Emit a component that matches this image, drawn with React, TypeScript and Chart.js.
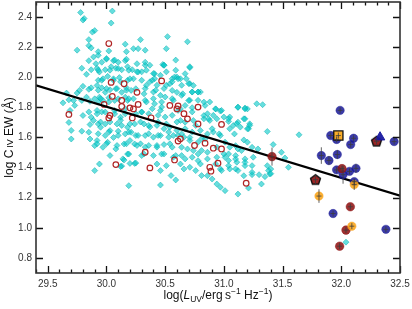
import React, { useEffect, useRef } from "react";
import { Chart, registerables } from "chart.js";
Chart.register(...registerables);

const X_TICKS = [29.5, 30.0, 30.5, 31.0, 31.5, 32.0, 32.5];
const Y_TICKS = [0.8, 1.0, 1.2, 1.4, 1.6, 1.8, 2.0, 2.2, 2.4];
const X_MIN = 29.4, X_MAX = 32.5, Y_MIN = 0.7, Y_MAX = 2.5;

// comparison sample (cyan diamonds)
const sdssPoints: [number, number][] = [
  [29.78,2.43],[29.81,2.39],[29.80,2.38],[30.05,2.44],[30.04,2.36],[29.90,2.31],[29.88,2.30],[29.85,2.25],[29.85,2.21],[29.75,2.18],[29.87,2.195],[29.93,2.17],[30.02,2.175],[30.16,2.22],[30.17,2.17],[30.23,2.19],[30.27,2.19],
  [29.85,2.11],[29.89,2.135],[29.93,2.146],[29.91,2.09],[29.96,2.10],[30.0,2.12],[30.06,2.11],[30.10,2.10],[30.16,2.11],[29.79,2.06],[29.83,2.02],[29.87,2.05],[29.92,2.06],[29.94,2.035],[29.99,2.05],[30.04,2.07],[30.08,2.06],[30.13,2.05],[30.18,2.07],[30.22,2.05],[30.26,2.09],[30.27,2.035],[29.93,1.98],[29.97,1.99],[30.01,2.006],[30.06,1.98],[30.11,1.998],[30.18,1.98],[30.23,1.99],
  [29.80,1.94],[29.85,1.92],[29.77,1.913],[29.75,1.895],[29.87,1.93],[29.92,1.946],[29.96,1.93],[29.99,1.90],[30.03,1.917],[30.08,1.924],[30.13,1.90],[30.17,1.93],[30.21,1.913],[30.25,1.924],[29.72,1.846],[29.73,1.813],[29.69,1.78],[29.79,1.846],[29.83,1.868],[29.86,1.84],[29.90,1.857],[29.94,1.868],[29.93,1.835],[29.97,1.846],[30.02,1.864],[30.07,1.846],[30.10,1.857],[30.16,1.868],[30.18,1.846],[30.23,1.857],
  [29.68,1.70],[29.70,1.59],[29.80,1.746],[29.85,1.77],[29.87,1.735],[29.92,1.757],[29.96,1.77],[29.86,1.686],[29.89,1.713],[29.93,1.69],[29.79,1.642],[29.85,1.635],[29.95,1.668],[29.99,1.69],[30.07,1.757],[30.12,1.735],[30.16,1.757],[30.25,1.757],[30.09,1.69],[30.13,1.68],[30.18,1.668],[30.24,1.69],[30.03,1.646],[30.10,1.642],[30.16,1.624],[30.21,1.635],[30.25,1.613],[29.99,1.613],[29.86,1.59],[29.92,1.58],[30.06,1.60],
  [29.90,1.546],[29.97,1.535],[30.01,1.568],[30.08,1.524],[30.15,1.557],[30.20,1.58],[30.24,1.557],[30.18,1.49],[30.14,1.458],[30.20,1.428],[30.24,1.428],[30.13,1.41],[29.94,1.424],[29.90,1.38],[30.19,1.28],
  [29.66,1.895],[29.68,1.85],[29.63,1.83],[29.70,1.647],[30.12,1.407],[30.15,1.45],[30.25,1.43],
  [30.52,2.27],[30.69,2.236],[30.33,2.18],[30.51,2.19],[30.29,2.25],[30.48,2.085],[30.71,2.064],[30.33,2.08],[30.37,2.08],[30.30,2.036],[30.41,2.024],[30.46,2.013],[30.56,1.99],[30.60,2.002],[30.68,1.99],[30.39,1.98],[30.34,1.947],[30.43,1.947],[30.51,1.947],[30.56,1.913],[30.64,1.947],[30.71,1.958],[30.65,1.89],[30.73,1.902],[30.78,1.902],[30.71,1.847],[30.78,1.847],[30.93,1.79],[30.97,1.776],[30.91,1.747],[30.86,1.758],
  [30.32,1.89],[30.40,1.902],[30.46,1.88],[30.50,1.869],[30.57,1.847],[30.34,1.836],[30.41,1.824],[30.47,1.802],[30.67,1.813],[30.73,1.798],[30.84,1.813],[30.88,1.836],[30.30,1.769],[30.36,1.758],[30.44,1.747],[30.50,1.736],[30.56,1.747],[30.63,1.713],[30.74,1.713],[30.83,1.724],[30.88,1.713],[30.94,1.724],[31.0,1.736],
  [30.32,1.69],[30.37,1.669],[30.43,1.68],[30.49,1.658],[30.54,1.669],[30.60,1.647],[30.67,1.658],[30.73,1.636],[30.80,1.647],[30.86,1.624],[30.91,1.636],[30.97,1.613],[30.33,1.613],[30.40,1.602],[30.46,1.613],[30.53,1.602],[30.57,1.613],[30.66,1.602],[30.71,1.58],[30.78,1.569],[30.84,1.591],
  [30.29,1.558],[30.36,1.547],[30.43,1.536],[30.49,1.553],[30.56,1.536],[30.69,1.524],[30.81,1.513],[30.94,1.536],[30.32,1.491],[30.40,1.48],[30.49,1.491],[30.57,1.469],[30.64,1.48],[30.73,1.469],[30.78,1.491],[30.86,1.458],[30.94,1.469],[31.0,1.491],
  [30.43,1.424],[30.51,1.413],[30.63,1.424],[30.71,1.402],[30.80,1.424],[30.97,1.391],[30.46,1.38],[30.55,1.347],[30.59,1.318],[30.81,1.347],[30.90,1.324],[30.94,1.291],[30.46,1.284],[30.97,1.27],
  [31.33,1.818],[31.12,1.802],[31.18,1.796],[31.05,1.736],[31.04,1.707],[31.12,1.702],[31.18,1.724],[31.22,1.691],[31.08,1.68],[31.14,1.669],[31.21,1.658],[31.37,1.64],[31.64,1.618],[31.09,1.624],[31.17,1.584],[31.20,1.569],[31.29,1.524],[31.42,1.553],[31.49,1.502],[31.52,1.464],[31.55,1.402],
  [31.05,1.536],[31.12,1.524],[31.10,1.48],[31.18,1.458],[31.25,1.469],[31.04,1.447],[31.11,1.436],[31.18,1.413],[31.24,1.413],[31.05,1.391],[31.12,1.38],[31.37,1.413],[31.38,1.38],[31.24,1.353],[31.30,1.353],[31.35,1.34],[31.39,1.358],[31.32,1.291],[31.21,1.264],[31.12,1.224],[31.01,1.247],[31.40,1.39],[31.40,1.36],[32.04,0.905],
  [30.41,1.99],[30.54,1.957],[30.74,1.946],[30.80,1.902],[30.67,2.024],[30.58,2.002],[30.49,2.08],[30.71,2.07],[31.20,1.79],
  [30.00,2.125],[30.07,2.114],[30.17,2.12],[30.33,2.10],[30.49,2.08],[30.59,2.114],[29.93,2.047],[30.03,2.047],[30.10,2.058],[30.19,2.047],[30.26,2.036],[30.34,2.047],[30.40,2.025],[30.51,2.036],[30.59,2.047],
  [29.96,1.98],[30.06,1.99],[30.12,1.97],[30.20,1.99],[30.30,1.98],[30.37,1.97],[30.56,1.97],[30.61,1.99],[29.93,1.914],[30.00,1.925],[30.09,1.925],[30.17,1.914],[30.33,1.925],[30.42,1.914],[30.49,1.925],[30.60,1.90],
  [29.95,1.858],[30.02,1.836],[30.19,1.858],[30.33,1.847],[30.40,1.858],[30.47,1.836],[30.56,1.858],[29.92,1.78],[29.99,1.769],[30.07,1.78],[30.16,1.791],[30.30,1.769],[30.39,1.791],[30.46,1.78],[30.61,1.78],
  [29.95,1.703],[30.03,1.703],[30.12,1.714],[30.20,1.69],[30.29,1.703],[30.36,1.68],[30.44,1.703],[30.51,1.69],[30.60,1.703],[29.93,1.625],[30.02,1.636],[30.10,1.614],[30.19,1.636],[30.27,1.614],[30.36,1.625],[30.44,1.614],[30.53,1.636],[30.61,1.614],
  [29.92,1.558],[30.00,1.558],[30.09,1.547],[30.17,1.558],[30.26,1.547],[30.33,1.536],[30.43,1.547],[30.54,1.558],[30.03,1.48],[30.19,1.49],[30.30,1.48],[30.47,1.49],[30.59,1.48],
  [30.63,1.99],[30.70,1.958],[30.73,1.902],[30.78,1.902],[30.64,1.88],[30.70,1.846],[30.83,1.835],[30.93,1.79],[30.98,1.78],[31.12,1.80],[31.18,1.79],[31.28,1.824],[30.63,1.79],[30.73,1.77],[30.83,1.746],[30.87,1.724],[31.04,1.724],[31.11,1.691],[31.17,1.724],[31.22,1.68],[31.05,1.658],[31.20,1.658],
  [30.67,1.702],[30.76,1.68],[30.90,1.658],[30.96,1.624],[30.64,1.624],[30.71,1.60],[30.81,1.591],[31.01,1.569],[31.10,1.546],[31.15,1.513],[31.24,1.535],[30.64,1.535],[30.74,1.513],[30.86,1.502],[31.04,1.491],
  [30.67,1.458],[30.78,1.446],[31.01,1.468],[31.10,1.457],[30.93,1.424],[31.04,1.413],[31.18,1.435],[30.66,1.391],[30.76,1.38],[30.98,1.38],[31.10,1.391],[31.24,1.369],[30.86,1.346],[31.17,1.346],
];

// comparison sample open circles (red)
const redOpen: [number, number][] = [
  [30.02,2.224],[30.04,1.966],[30.15,1.957],[30.26,1.90],[30.05,1.873],[30.13,1.846],[30.13,1.806],[30.20,1.797],[30.23,1.79],[30.27,1.82],[29.98,1.82],[29.68,1.753],[30.02,1.73],[30.03,1.746],[30.22,1.73],[30.08,1.42],
  [30.47,1.976],[30.54,1.813],[30.60,1.79],[30.61,1.81],[30.66,1.758],[30.69,1.724],[30.78,1.802],[30.78,1.69],[30.98,1.687],[30.38,1.731],[30.63,1.591],[30.61,1.576],[30.75,1.547],[30.84,1.562],[30.91,1.529],[30.98,1.524],[30.33,1.502],[30.58,1.451],[30.37,1.398],[30.95,1.429],[30.88,1.402],[30.89,1.376],
  [31.19,1.296],
];

// best-fit relation
const fitX = [29.4, 32.5];
const fitY = [1.947, 1.213];

// high-luminosity sample
const blueX = [31.99, 31.91, 31.96, 32.105, 32.08, 31.83, 31.895, 31.966, 31.96, 32.07, 32.125, 32.015, 32.11, 31.93, 32.38, 32.45];
const blueY = [1.78, 1.613, 1.587, 1.595, 1.553, 1.48, 1.447, 1.487, 1.385, 1.375, 1.395, 1.353, 1.307, 1.095, 0.99, 1.573];
const blueErr = [0.02, 0.02, 0.02, 0.02, 0.02, 0.055, 0.03, 0.03, 0.02, 0.02, 0.03, 0.06, 0.02, 0.02, 0.02, 0.02];

const darkRedX = [31.41, 32.006, 32.077, 32.04, 31.986];
const darkRedY = [1.473, 1.393, 1.14, 0.985, 0.878];
const darkRedErr = [0.06, 0.02, 0.02, 0.02, 0.02];

const orangeX = [32.11, 31.81, 32.09];
const orangeY = [1.287, 1.211, 1.011];
const orangeErr = [0.035, 0.045, 0.02];

const pentX = [31.78, 32.30];
const pentY = [1.32, 1.575];
const pentErr = [0.03, 0.02];

const squareX = [31.975];
const squareY = [1.613];
const squareErr = [0.02];

const triX = [32.33];
const triY = [1.602];

const FONT = "'Liberation Sans', Arial, Helvetica, sans-serif";

function toXY(xs: number[], ys: number[]) {
  return xs.map((x, i) => ({ x, y: ys[i] }));
}

function makePentagon(): HTMLCanvasElement {
  const c = document.createElement("canvas");
  c.width = 13; c.height = 13;
  const g = c.getContext("2d")!;
  const cx = 6.5, cy = 6.8, r = 5.2;
  g.beginPath();
  for (let k = 0; k < 5; k++) {
    const a = -Math.PI / 2 + (k * 2 * Math.PI) / 5;
    const px = cx + r * Math.cos(a), py = cy + r * Math.sin(a);
    if (k === 0) g.moveTo(px, py); else g.lineTo(px, py);
  }
  g.closePath();
  g.fillStyle = "rgba(150,25,25,0.95)";
  g.fill();
  g.lineWidth = 1.4;
  g.strokeStyle = "#111";
  g.stroke();
  return c;
}

const framePlugin = {
  id: "framePlugin",
  afterDatasetsDraw(chart: any) {
    const { ctx, scales } = chart;
    const xs = scales.x, ys = scales.y;
    ctx.save();
    ctx.strokeStyle = "rgba(60,60,60,0.8)";
    ctx.lineWidth = 1;
    chart.data.datasets.forEach((ds: any) => {
      if (!ds.errY) return;
      ds.data.forEach((p: any, j: number) => {
        const ey = ds.errY[j];
        const px = xs.getPixelForValue(p.x);
        const py = ys.getPixelForValue(p.y);
        if (ey) {
          ctx.beginPath();
          ctx.moveTo(px, ys.getPixelForValue(p.y - ey));
          ctx.lineTo(px, ys.getPixelForValue(p.y + ey));
          ctx.stroke();
        }
        ctx.beginPath();
        ctx.moveTo(px - 2.5, py);
        ctx.lineTo(px + 2.5, py);
        ctx.stroke();
      });
    });
    ctx.restore();
  },
  afterDraw(chart: any) {
    const { ctx, chartArea: a, scales } = chart;
    const xs = scales.x, ys = scales.y;
    ctx.save();
    ctx.strokeStyle = "#111";
    ctx.lineWidth = 1.3;
    for (let i = Math.round(X_MIN * 10); i <= Math.round(X_MAX * 10); i++) {
      const v = i / 10;
      const px = Math.round(xs.getPixelForValue(v)) + 0.5;
      const len = i % 5 === 0 ? 7 : 3.5;
      ctx.beginPath();
      ctx.moveTo(px, a.bottom); ctx.lineTo(px, a.bottom - len);
      ctx.moveTo(px, a.top); ctx.lineTo(px, a.top + len);
      ctx.stroke();
    }
    Y_TICKS.forEach((v) => {
      const py = Math.round(ys.getPixelForValue(v)) + 0.5;
      ctx.beginPath();
      ctx.moveTo(a.left, py); ctx.lineTo(a.left + 7, py);
      ctx.moveTo(a.right, py); ctx.lineTo(a.right - 7, py);
      ctx.stroke();
    });
    ctx.strokeStyle = "#333";
    ctx.lineWidth = 1.6;
    ctx.strokeRect(a.left, a.top, a.right - a.left, a.bottom - a.top);

    ctx.fillStyle = "#111";
    ctx.textBaseline = "alphabetic";
    ctx.textAlign = "left";
    type Seg = { t: string; f: string; dy: number };
    const big = `12px ${FONT}`, it = `italic 12px ${FONT}`, small = `8.5px ${FONT}`;
    const xsegs: Seg[] = [
      { t: "log(", f: big, dy: 0 },
      { t: "L", f: it, dy: 0 },
      { t: "UV", f: small, dy: 3 },
      { t: "/erg\u2009s", f: big, dy: 0 },
      { t: "\u22121", f: small, dy: -5 },
      { t: " Hz", f: big, dy: 0 },
      { t: "\u22121", f: small, dy: -5 },
      { t: ")", f: big, dy: 0 },
    ];
    const drawSegs = (segs: Seg[], cx: number, base: number) => {
      let total = 0;
      segs.forEach((s) => { ctx.font = s.f; total += ctx.measureText(s.t).width; });
      let x = cx - total / 2;
      segs.forEach((s) => {
        ctx.font = s.f;
        ctx.fillText(s.t, x, base + s.dy);
        x += ctx.measureText(s.t).width;
      });
    };
    drawSegs(xsegs, (a.left + a.right) / 2, 299);

    ctx.save();
    ctx.translate(13, (a.top + a.bottom) / 2);
    ctx.rotate(-Math.PI / 2);
    const ysegs: Seg[] = [
      { t: "log C", f: big, dy: 0 },
      { t: "\u2009IV", f: `9px ${FONT}`, dy: 0 },
      { t: " EW (\u00c5)", f: big, dy: 0 },
    ];
    drawSegs(ysegs, 0, 0);
    ctx.restore();
    ctx.restore();
  },
};

export default function App() {
  const ref = useRef<HTMLCanvasElement>(null);
  useEffect(() => {
    if (!ref.current) return;
    const pent = makePentagon();
    const chart = new Chart(ref.current, {
      type: "scatter",
      data: {
        datasets: [
          {
            label: "square",
            data: toXY(squareX, squareY),
            pointStyle: "rect",
            pointRadius: 6.5,
            backgroundColor: "rgba(250,170,30,0.95)",
            borderColor: "#111",
            borderWidth: 1.3,
            order: 1,
            errY: squareErr,
          } as any,
          {
            label: "triangle",
            data: toXY(triX, triY),
            pointStyle: "triangle",
            pointRadius: 5.5,
            backgroundColor: "rgba(25,25,160,0.95)",
            borderColor: "rgba(25,25,160,0.95)",
            borderWidth: 1,
            order: 1,
          } as any,
          {
            label: "pentagon",
            data: toXY(pentX, pentY),
            pointStyle: pent,
            pointRadius: 6,
            order: 2,
            errY: pentErr,
          } as any,
          {
            label: "orange",
            data: toXY(orangeX, orangeY),
            pointStyle: "circle",
            pointRadius: 4.2,
            backgroundColor: "rgba(250,165,25,0.88)",
            borderColor: "rgba(250,165,25,0.88)",
            borderWidth: 0.5,
            order: 3,
            errY: orangeErr,
          } as any,
          {
            label: "darkred",
            data: toXY(darkRedX, darkRedY),
            pointStyle: "circle",
            pointRadius: 4.3,
            backgroundColor: "rgba(145,20,20,0.88)",
            borderColor: "rgba(145,20,20,0.88)",
            borderWidth: 0.5,
            order: 4,
            errY: darkRedErr,
          } as any,
          {
            label: "blue",
            data: toXY(blueX, blueY),
            pointStyle: "circle",
            pointRadius: 4.2,
            backgroundColor: "rgba(25,25,150,0.85)",
            borderColor: "rgba(25,25,150,0.85)",
            borderWidth: 0.5,
            order: 5,
            errY: blueErr,
          } as any,
          {
            label: "fit",
            data: toXY(fitX, fitY),
            showLine: true,
            borderColor: "#000",
            borderWidth: 2.2,
            pointRadius: 0,
            order: 6,
          } as any,
          {
            label: "redOpen",
            data: redOpen.map(([x, y]) => ({ x, y })),
            pointStyle: "circle",
            pointRadius: 2.8,
            backgroundColor: "rgba(0,0,0,0)",
            borderColor: "#b02525",
            borderWidth: 1.2,
            order: 7,
          } as any,
          {
            label: "sdss",
            data: sdssPoints.map(([x, y]) => ({ x, y })),
            pointStyle: "rectRot",
            pointRadius: 3,
            backgroundColor: "rgba(0,200,200,0.6)",
            borderColor: "rgba(0,175,175,0.6)",
            borderWidth: 0.8,
            order: 8,
          } as any,
        ],
      },
      options: {
        animation: false,
        responsive: false,
        events: [],
        layout: { autoPadding: false, padding: { top: 2, right: 12, left: 0, bottom: 0 } },
        plugins: { legend: { display: false }, tooltip: { enabled: false } },
        scales: {
          x: {
            type: "linear",
            min: X_MIN,
            max: X_MAX,
            grid: { display: false, drawTicks: false },
            border: { display: false },
            afterBuildTicks: (s: any) => { s.ticks = X_TICKS.map((v) => ({ value: v })); },
            afterFit: (s: any) => { s.height = 36; s.paddingLeft = 0; s.paddingRight = 0; },
            ticks: {
              autoSkip: false,
              maxRotation: 0,
              padding: 5,
              color: "#333",
              font: { size: 10, family: FONT },
              callback: (v: any) => Number(v).toFixed(1),
            },
          },
          y: {
            type: "linear",
            min: Y_MIN,
            max: Y_MAX,
            grid: { display: false, drawTicks: false },
            border: { display: false },
            afterBuildTicks: (s: any) => { s.ticks = Y_TICKS.map((v) => ({ value: v })); },
            afterFit: (s: any) => { s.width = 36; s.paddingTop = 0; s.paddingBottom = 0; },
            ticks: {
              autoSkip: false,
              padding: 4,
              color: "#333",
              font: { size: 10, family: FONT },
              callback: (v: any) => Number(v).toFixed(1),
            },
          },
        },
      },
      plugins: [framePlugin],
    } as any);
    return () => chart.destroy();
  }, []);
  return (
    <div style={{ position: "absolute", left: 0, top: 0, width: 412, height: 309, background: "#fff" }}>
      <canvas ref={ref} width={412} height={309} style={{ display: "block" }} />
    </div>
  );
}
